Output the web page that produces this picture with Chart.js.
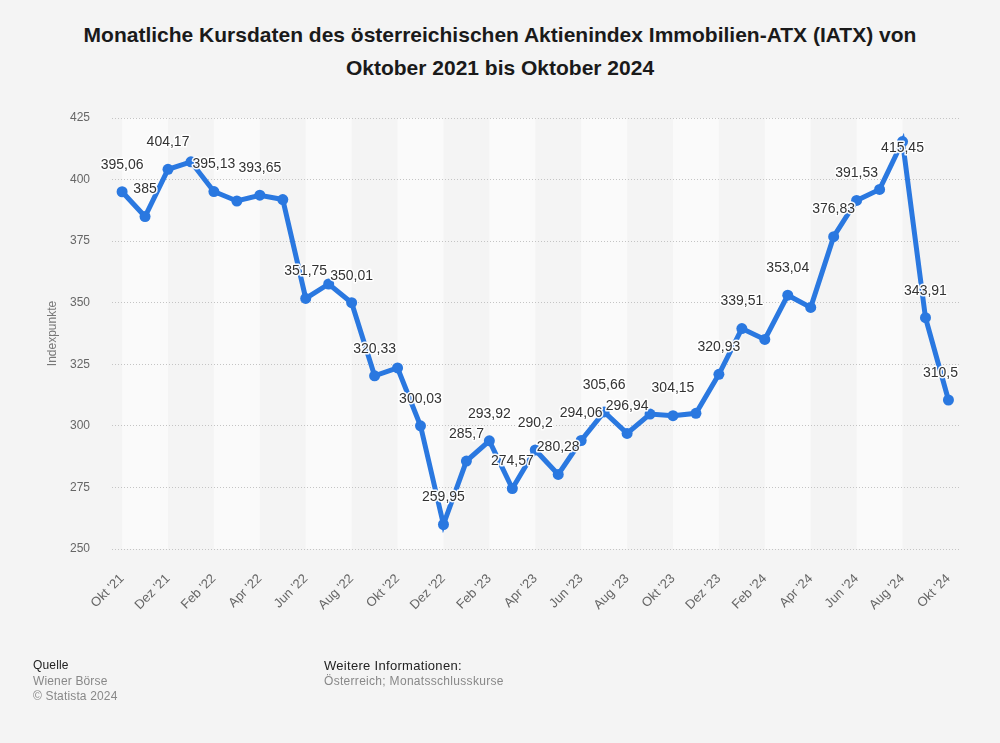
<!DOCTYPE html>
<html>
<head>
<meta charset="utf-8">
<script src="https://cdn.jsdelivr.net/npm/chart.js@4/dist/chart.umd.min.js"></script>
<style>
  html, body { margin: 0; padding: 0; background: #f4f4f4; }
  body { width: 1000px; height: 743px; position: relative; overflow: hidden; font-family: "Liberation Sans", Arial, Helvetica, sans-serif; }
  #title { position: absolute; left: 0; top: 18px; width: 1000px; text-align: center; font-weight: bold; font-size: 21px; line-height: 33px; color: #1a1a1a; }
  canvas { position: absolute; left: 0; top: 0; }
  .foot { position: absolute; font-size: 12px; line-height: 15.5px; letter-spacing: 0.15px; }
  .foot .h { color: #222; }
  .foot .g { color: #888; }
  .foot.r .h { font-size: 13px; letter-spacing: 0.3px; }
  .foot.r .g { letter-spacing: 0.3px; }
</style>
</head>
<body>
<div id="title">Monatliche Kursdaten des österreichischen Aktienindex Immobilien-ATX (IATX) von<br>Oktober 2021 bis Oktober 2024</div>
<canvas id="c" width="1000" height="743"></canvas>
<div class="foot" style="left:33px; top:658px;"><div class="h">Quelle</div><div class="g">Wiener Börse</div><div class="g">© Statista 2024</div></div>
<div class="foot r" style="left:324px; top:658px;"><div class="h">Weitere Informationen:</div><div class="g">Österreich; Monatsschlusskurse</div></div>
<script>
const categories = [
  "Okt '21","Nov '21","Dez '21","Jan '22","Feb '22","Mär '22","Apr '22","Mai '22","Jun '22","Jul '22","Aug '22","Sep '22",
  "Okt '22","Nov '22","Dez '22","Jan '23","Feb '23","Mär '23","Apr '23","Mai '23","Jun '23","Jul '23","Aug '23","Sep '23",
  "Okt '23","Nov '23","Dez '23","Jan '24","Feb '24","Mär '24","Apr '24","Mai '24","Jun '24","Jul '24","Aug '24","Sep '24","Okt '24"
];
const values = [
  395.06, 385, 404.17, 407.2, 395.13, 391.3, 393.65, 391.9, 351.75, 357.6, 350.01, 320.33,
  323.5, 300.03, 259.95, 285.7, 293.92, 274.57, 290.2, 280.28, 294.06, 305.66, 296.94, 304.8,
  304.15, 305.1, 320.93, 339.51, 335.1, 353.04, 348.1, 376.83, 391.53, 396.0, 415.45, 343.91, 310.5
];
const labelShown = [
  1,1,1,0,1,0,1,0,1,0,1,1,
  0,1,1,1,1,1,1,1,1,1,1,0,
  1,0,1,1,0,1,0,1,1,0,1,1,1
];
const yTicks = [250, 275, 300, 325, 350, 375, 400, 425];
const yAxisTitle = "Indexpunkte";

const points = values.map((v, i) => ({ x: i, y: v }));

const bandPlugin = {
  id: 'bands',
  beforeDraw(chart) {
    const { ctx, chartArea, scales } = chart;
    const xs = scales.x;
    ctx.save();
    ctx.fillStyle = '#fafafa';
    for (let k = 0; k + 2 <= categories.length - 1; k += 4) {
      const x0 = xs.getPixelForValue(k);
      const x1 = xs.getPixelForValue(k + 2);
      ctx.fillRect(x0, chartArea.top, x1 - x0, chartArea.bottom - chartArea.top);
    }
    ctx.restore();
  }
};

const labelPlugin = {
  id: 'vlabels',
  afterDatasetsDraw(chart) {
    const { ctx, chartArea } = chart;
    const meta = chart.getDatasetMeta(0);
    ctx.save();
    ctx.font = '14px "Liberation Sans", Arial, sans-serif';
    ctx.textAlign = 'center';
    ctx.textBaseline = 'middle';
    ctx.lineJoin = 'round';
    meta.data.forEach((pt, i) => {
      if (!labelShown[i]) return;
      const txt = String(values[i]).replace('.', ',');
      const w = ctx.measureText(txt).width;
      let x = pt.x;
      if (x + w / 2 > chartArea.right - 1) x = chartArea.right - 1 - w / 2;
      let y = pt.y - 27;
      if (y - 8 < chartArea.top) y = pt.y + 7;
      ctx.strokeStyle = 'rgba(255,255,255,0.95)';
      ctx.lineWidth = 3;
      ctx.strokeText(txt, x, y);
      ctx.fillStyle = '#333333';
      ctx.fillText(txt, x, y);
    });
    ctx.restore();
  }
};

new Chart(document.getElementById('c'), {
  type: 'line',
  data: {
    datasets: [{
      data: points,
      borderColor: '#2a78e0',
      backgroundColor: '#2a78e0',
      borderWidth: 5,
      pointRadius: 5.5,
      pointHoverRadius: 5.5,
      pointBorderWidth: 0,
      pointBackgroundColor: '#2a78e0',
      tension: 0,
      fill: false
    }]
  },
  options: {
    responsive: false,
    animation: false,
    events: [],
    layout: { padding: { top: 118, right: 41, bottom: 0, left: 0 } },
    plugins: { legend: { display: false }, tooltip: { enabled: false }, title: { display: false } },
    scales: {
      x: {
        type: 'linear',
        min: -0.44,
        max: categories.length - 1 + 0.46,
        grid: { display: false },
        border: { display: false },
        afterBuildTicks(scale) {
          scale.ticks = categories.map((c, i) => ({ value: i })).filter(t => t.value % 2 === 0);
        },
        afterFit(scale) { scale.height = 743 - 549; },
        ticks: {
          autoSkip: false,
          maxRotation: 45,
          minRotation: 45,
          padding: 14,
          color: '#666666',
          font: { size: 13, family: '"Liberation Sans", Arial, sans-serif' },
          callback: (v) => categories[v] ?? ''
        }
      },
      y: {
        min: 250,
        max: 425,
        afterBuildTicks(scale) { scale.ticks = yTicks.map(v => ({ value: v })); },
        afterFit(scale) { scale.width = 112; },
        grid: { color: '#c4c4c4', lineWidth: 1, drawTicks: false },
        border: { display: false, dash: [1, 2] },
        ticks: {
          padding: 22,
          color: '#666666',
          font: { size: 12, family: '"Liberation Sans", Arial, sans-serif' }
        },
        title: {
          display: true,
          text: yAxisTitle,
          color: '#777777',
          font: { size: 12, family: '"Liberation Sans", Arial, sans-serif' },
          padding: { top: 45, bottom: 0 }
        }
      }
    }
  },
  plugins: [bandPlugin, labelPlugin]
});
</script>
</body>
</html>
